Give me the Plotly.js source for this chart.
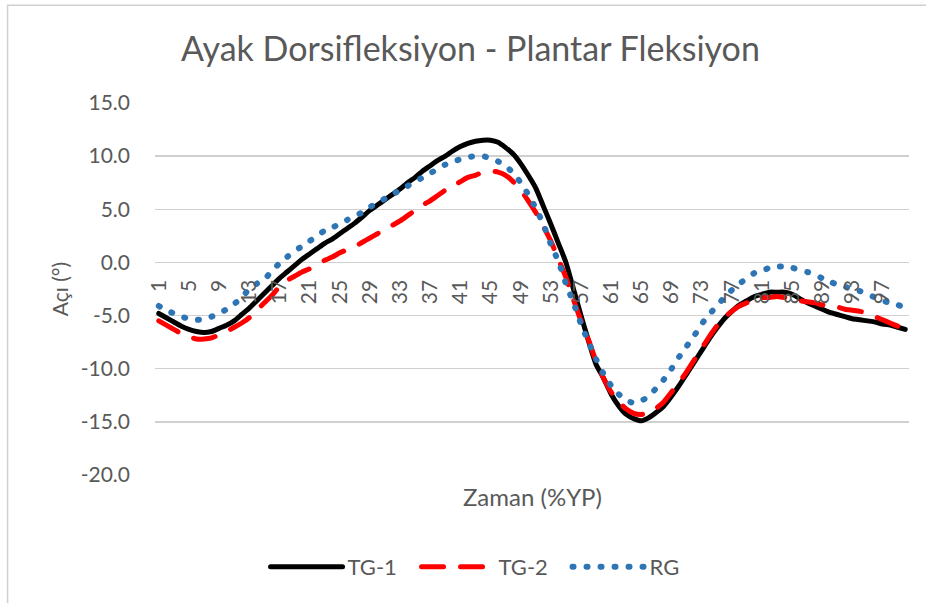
<!DOCTYPE html>
<html>
<head>
<meta charset="utf-8">
<script src="https://cdn.plot.ly/plotly-3.0.1.min.js"></script>
<style>
  html, body { margin: 0; padding: 0; background: #fff; }
  #plot { width: 926px; height: 603px; }
</style>
</head>
<body>
<div id="plot"></div>
<script>
/* Zaman (%YP): 1..100 */
var zaman = [];
for (var i = 1; i <= 100; i++) zaman.push(i);

var xTicks = [1,5,9,13,17,21,25,29,33,37,41,45,49,53,57,61,65,69,73,77,81,85,89,93,97];
var yTicks = [15, 10, 5, 0, -5, -10, -15, -20];
var yTickText = ["15.0", "10.0", "5.0", "0.0", "-5.0", "-10.0", "-15.0", "-20.0"];

var tg1 = [
  -4.8,-5.2,-5.6,-6.0,-6.3,-6.5,-6.6,-6.5,-6.2,-5.9,
  -5.5,-4.9,-4.3,-3.6,-2.9,-2.2,-1.5,-0.9,-0.3,0.3,
  0.8,1.3,1.8,2.2,2.7,3.2,3.7,4.3,4.9,5.4,
  5.9,6.4,6.9,7.5,8.0,8.6,9.1,9.6,10.0,10.5,
  10.9,11.2,11.4,11.5,11.5,11.3,10.8,10.2,9.3,8.2,
  7.0,5.3,3.6,1.8,0.0,-2.5,-5.0,-7.4,-9.6,-10.9,
  -12.4,-13.5,-14.3,-14.7,-14.9,-14.6,-14.1,-13.5,-12.6,-11.6,
  -10.5,-9.4,-8.3,-7.2,-6.2,-5.3,-4.6,-4.0,-3.6,-3.2,
  -3.0,-2.8,-2.8,-2.8,-3.0,-3.4,-3.8,-4.1,-4.4,-4.7,
  -4.9,-5.1,-5.3,-5.4,-5.5,-5.6,-5.8,-5.9,-6.1,-6.3
];

var tg2 = [
  -5.5,-5.9,-6.3,-6.7,-7.0,-7.2,-7.2,-7.1,-6.8,-6.5,
  -6.1,-5.7,-5.2,-4.5,-3.8,-3.1,-2.3,-1.7,-1.3,-0.9,
  -0.6,-0.2,0.2,0.5,0.9,1.2,1.5,1.9,2.3,2.7,
  3.1,3.5,3.9,4.4,4.9,5.4,5.8,6.3,6.8,7.2,
  7.6,8.0,8.2,8.5,8.6,8.5,8.2,7.6,6.8,5.8,
  4.7,3.4,2.0,0.3,-1.4,-3.5,-5.5,-7.3,-9.3,-10.9,
  -12.2,-13.1,-13.8,-14.2,-14.3,-14.1,-13.7,-13.1,-12.2,-11.3,
  -10.3,-9.2,-8.1,-7.0,-6.0,-5.2,-4.6,-4.1,-3.8,-3.5,
  -3.3,-3.3,-3.2,-3.3,-3.4,-3.6,-3.7,-3.8,-4.0,-4.1,
  -4.2,-4.4,-4.5,-4.6,-4.8,-5.1,-5.4,-5.7,-6.0,-6.3
];

var rg = [
  -4.1,-4.5,-4.8,-5.1,-5.3,-5.4,-5.35,-5.1,-4.8,-4.4,
  -3.9,-3.3,-2.5,-2.0,-1.6,-0.8,-0.1,0.5,1.1,1.5,
  2.0,2.5,3.0,3.3,3.6,4.0,4.4,4.7,5.2,5.6,
  6.0,6.4,6.8,7.2,7.6,8.0,8.4,8.8,9.2,9.5,
  9.7,9.9,10.0,10.0,9.8,9.5,9.1,8.4,7.5,6.4,
  5.1,3.6,1.7,0.1,-2.0,-3.8,-5.8,-7.5,-9.1,-10.5,
  -11.6,-12.4,-13.0,-13.2,-13.0,-12.6,-11.8,-11.0,-10.0,-8.9,
  -7.9,-6.9,-5.8,-4.9,-4.1,-3.3,-2.6,-2.0,-1.5,-1.0,
  -0.8,-0.5,-0.4,-0.4,-0.5,-0.7,-0.9,-1.1,-1.5,-1.8,
  -2.1,-2.3,-2.5,-2.7,-3.0,-3.3,-3.6,-3.8,-4.0,-4.2
];

var font = "Lato, 'Open Sans', sans-serif";
var grey = "#595959";

var trace1 = {
  x: zaman, y: tg1, type: "scatter", mode: "lines", name: "TG-1",
  line: {color: "#000000", width: 5, shape: "spline", smoothing: 0.6}
};
var trace2 = {
  x: zaman, y: tg2, type: "scatter", mode: "lines", name: "TG-2",
  line: {color: "#ff0000", width: 5, dash: "22px,17px", shape: "spline", smoothing: 0.6}
};
var trace3 = {
  x: zaman, y: rg, type: "scatter", mode: "lines", name: "RG",
  line: {color: "#2e75b6", width: 6, dash: "1px,13px", shape: "spline", smoothing: 0.6}
};

var layout = {
  width: 926, height: 603,
  margin: {l: 155, r: 17, t: 103, b: 128},
  paper_bgcolor: "#ffffff", plot_bgcolor: "rgba(0,0,0,0)",
  font: {family: font, color: grey, size: 21},
  title: {
    text: "Ayak Dorsifleksiyon - Plantar Fleksiyon",
    font: {family: font, size: 34, color: grey},
    x: 0.508, xanchor: "center", y: 0.918, yanchor: "middle"
  },
  xaxis: {
    type: "linear", range: [0.5, 100.5],
    tickmode: "array", tickvals: xTicks, ticktext: xTicks.map(String),
    tickangle: -90, showgrid: false, zeroline: false, showline: false,
    ticks: "", ticklabelstandoff: 13,
    anchor: "free", position: 0.5734,
    tickfont: {family: font, size: 21, color: grey}
  },
  yaxis: {
    range: [-20, 15],
    tickmode: "array", tickvals: yTicks, ticktext: yTickText,
    showgrid: true, gridcolor: "#d0d0d0", gridwidth: 1.5,
    zeroline: false, showline: false, ticks: "", ticklabelstandoff: 24,
    tickfont: {family: font, size: 21, color: grey},
    title: {text: "Açı (°)", font: {family: font, size: 21, color: grey}, standoff: 6}
  },
  legend: {
    orientation: "h", x: 0.447, xanchor: "center", y: -0.247, yanchor: "middle",
    font: {family: font, size: 22, color: grey}, itemwidth: 72,
    entrywidth: 64, entrywidthmode: "pixels",
    traceorder: "normal"
  },
  annotations: [{
    text: "Zaman (%YP)", xref: "paper", yref: "paper",
    x: 0.5, y: -0.057, xanchor: "center", yanchor: "middle",
    showarrow: false, font: {family: font, size: 24, color: grey}
  }],
  shapes: [{
    type: "rect", xref: "paper", yref: "paper", layer: "below",
    x0: -0.1955, x1: 1.2, y0: -0.5, y1: 1.263,
    line: {color: "#d0d0d0", width: 1.5}, fillcolor: "rgba(0,0,0,0)"
  }],
  showlegend: true
};

Plotly.newPlot("plot", [trace1, trace2, trace3], layout, {staticPlot: true}).then(function(gd) {
  // rounded ends so the dots look like Excel's round dots
  var paths = gd.querySelectorAll(".scatterlayer .js-line, .legend .js-line");
  paths.forEach(function(p) { p.style.strokeLinecap = "round"; });
});
</script>
</body>
</html>
